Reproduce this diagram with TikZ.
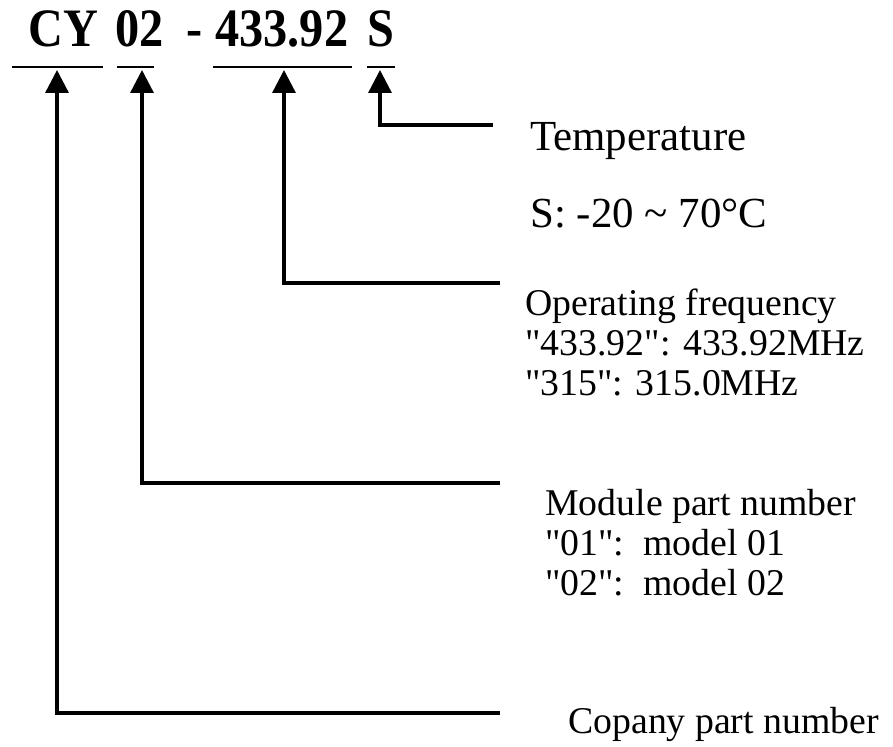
\documentclass[tikz,border=0pt]{standalone}
\usepackage{fontspec}
\usepackage{graphicx}
\setmainfont{Liberation Serif}
\usetikzlibrary{arrows.meta}

\newcommand{\tall}[1]{\scalebox{1}[1.12]{#1}}
\newcommand{\dq}{\textquotedbl}

\begin{document}
\begin{tikzpicture}[x=0.02cm,y=-0.02cm]
	\tikzset{
		code/.style={font=\fontsize{27.5}{27.5}\selectfont\bfseries, inner sep=0pt, anchor=base west},
		bar/.style={line width=1.7pt},
		pointer/.style={line width=1.9pt, -{Triangle[width=13pt,length=13pt]}},
		title/.style={font=\fontsize{24.4}{26}\selectfont, inner sep=0pt, anchor=base west},
		desc/.style={font=\fontsize{21.5}{22.7}\selectfont, inner sep=0pt, anchor=base west, align=left}
	}
	\useasboundingbox (0,0) rectangle (893,747);

	% Part code
	\node[code] (cy)   at (28,47)  {\tall{CY}};
	\node[code] (nr)   at (115,47) {\tall{02}};
	\node[code] (dash) at (186,47) {\tall{-}};
	\node[code] (freq) at (215,47) {\tall{433.92}};
	\node[code] (temp) at (367,47) {\tall{S}};

	% Underlines
	\draw[bar] (12,67) -- (103,67);
	\draw[bar] (117,67) -- (154,67);
	\draw[bar] (213,67) -- (352,67);
	\draw[bar] (367,67) -- (395,67);

	% Arrow tips just under the bars
	\coordinate (cy tip)   at (57,70);
	\coordinate (nr tip)   at (142,70);
	\coordinate (freq tip) at (284,70);
	\coordinate (temp tip) at (380,70);

	% Free ends of the leaders
	\coordinate (cy end)   at (500,713);
	\coordinate (nr end)   at (500,483);
	\coordinate (freq end) at (500,283);
	\coordinate (temp end) at (493,125);

	% Leaders
	\draw[pointer] (temp end) -| (temp tip);
	\draw[pointer] (freq end) -| (freq tip);
	\draw[pointer] (nr end) -| (nr tip);
	\draw[pointer] (cy end) -| (cy tip);

	% Descriptions
	\node[title] (temp name)  at (530,150) {Temperature};
	\node[title] (temp range) at (530,227) {S: -20 \textasciitilde{} 70°C};
	\node[desc] (freq text) at (525,395) {Operating frequency\\\dq433.92\dq: 433.92MHz\\\dq315\dq: 315.0MHz};
	\node[desc] (nr text) at (545,595) {Module part number\\\dq01\dq:\ \ model 01\\\dq02\dq:\ \ model 02};
	\node[desc] (cy text) at (568,733) {Copany part number};
\end{tikzpicture}
\end{document}
